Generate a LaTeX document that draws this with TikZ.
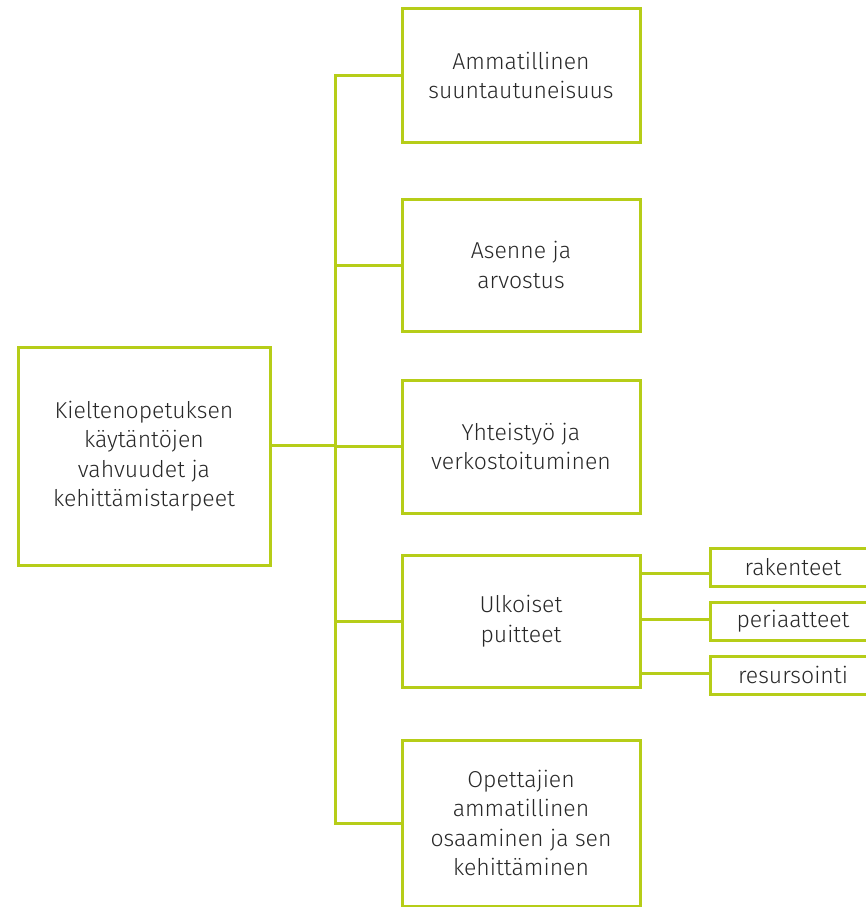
\documentclass[tikz,border=0pt]{standalone}
\usepackage{fontspec}
\setmainfont{Fira Sans}[UprightFont={* Light}]
\usepackage{tikz}
\usetikzlibrary{calc}
\definecolor{lime}{RGB}{182,205,24}
\definecolor{ink}{RGB}{40,40,40}

\begin{document}
\begin{tikzpicture}[x=1pt,y=-1pt,
every node/.style={text=ink,font=\fontsize{23}{29.5}\selectfont,align=center},
box/.style={draw=lime,line width=3pt,inner sep=0pt,minimum width=238pt},
smallbox/.style={draw=lime,line width=3pt,inner sep=0pt,minimum width=166pt,minimum height=38pt},
wire/.style={draw=lime,line width=3pt}]
\useasboundingbox (0,0) rectangle (865,907);
\node [box,minimum width=252pt,minimum height=218pt] (root) at (144,456)
  {Kieltenopetuksen\\käytäntöjen\\vahvuudet ja\\kehittämistarpeet};
\node [box,minimum height=133pt] (amm) at (521,75.5) {Ammatillinen\\suuntautuneisuus};
\node [box,minimum height=132pt] (ase) at (521,265) {Asenne ja\\arvostus};
\node [box,minimum height=133pt] (yht) at (521,446.5) {Yhteistyö ja\\verkostoituminen};
\node [box,minimum height=132pt] (ulk) at (521,621) {Ulkoiset\\puitteet};
\node [box,minimum height=166pt] (ope) at (521,823) {Opettajien\\ammatillinen\\osaaminen ja sen\\kehittäminen};
\node [smallbox] (rak) at (793,567) {rakenteet};
\node [smallbox] (per) at (793,621) {periaatteet};
\node [smallbox] (res) at (793,675) {resursointi};
\coordinate (trunk) at (335,0);
\draw [wire] (amm.west) -- (amm.west -| trunk) |- (ope.west);
\draw [wire] (ase.west) -- (ase.west -| trunk);
\draw [wire] (yht.west) -- (yht.west -| trunk);
\draw [wire] (ulk.west) -- (ulk.west -| trunk);
\draw [wire] ($(root.east)+(0,-11)$) -- ($(root.east -| trunk)+(0,-11)$);
\draw [wire] ($(rak.west)+(0,6)$) -- ($(rak.west -| ulk.east)+(0,6)$);
\draw [wire] ($(per.west)+(0,-2)$) -- ($(per.west -| ulk.east)+(0,-2)$);
\draw [wire] ($(res.west)+(0,-2)$) -- ($(res.west -| ulk.east)+(0,-2)$);
\end{tikzpicture}
\end{document}
